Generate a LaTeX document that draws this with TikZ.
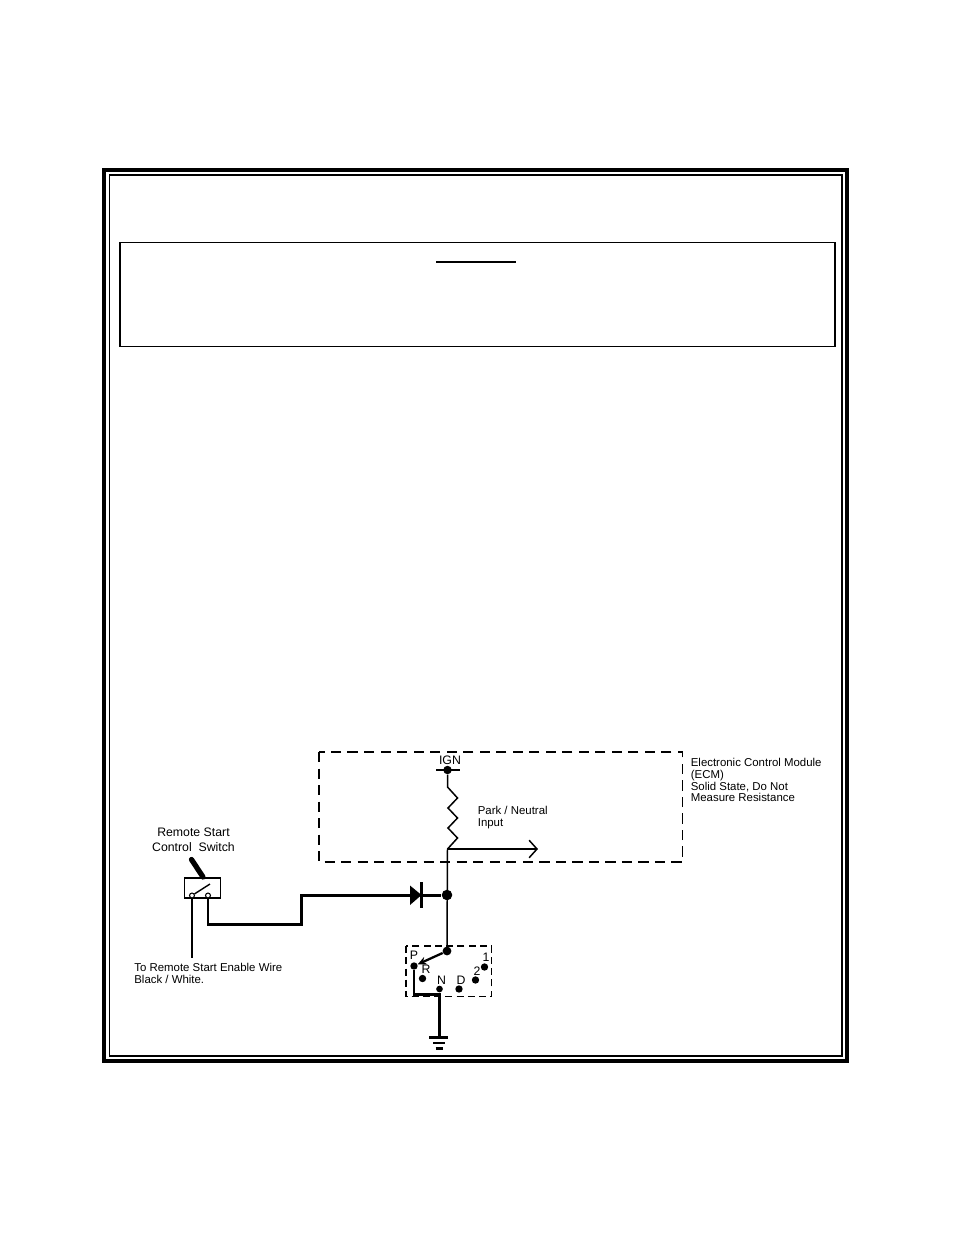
\documentclass[tikz,border=0pt]{standalone}
\usepackage{fontspec}
\setmainfont{Liberation Sans}
\usetikzlibrary{arrows.meta}

\tikzset{
	dot/.style={circle, fill=black, inner sep=0pt, minimum size=#1},
	dot/.default=4.8pt,
	term/.style={circle, draw, fill=white, line width=0.6pt, inner sep=0pt, minimum size=2.8pt},
	thinwire/.style={line width=0.85pt},
	medwire/.style={line width=1.3pt},
	heavywire/.style={line width=1.7pt},
	lbl/.style={font=\fontsize{6.5}{6.8}\selectfont, inner sep=0pt, align=left},
	biglbl/.style={font=\fontsize{7}{8.4}\selectfont, inner sep=0pt, align=center},
	ecmdash/.style={line width=0.85pt, dash pattern=on 5.8pt off 3.6pt},
	geardash/.style={line width=0.95pt, dash pattern=on 4pt off 2.4pt},
}

\begin{document}
\begin{tikzpicture}[x=0.02cm, y=-0.02cm]

	\useasboundingbox (0,0) rectangle (954,1235);

	\draw[line width=2.3pt] (104,170) rectangle (847,1061);
	\draw[line width=0.8pt] (109.5,175) rectangle (842,1056);
	\draw[line width=1.05pt] (120,242.5) rectangle (835,346.5);
	\draw[line width=0.8pt] (436,262) -- (516,262);

	\draw[ecmdash] (319,752) rectangle (682.5,862);
	\draw[geardash] (406,946) rectangle (491.5,996.5);

	\node[dot] (ign) at (447.5,770) {};
	\node[dot=6pt] (junction) at (447,895) {};
	\node[dot=5pt] (common) at (447,951) {};
	\coordinate (input) at (447.5,849);
	\coordinate (inputend) at (538,849);
	\coordinate (barleft) at (436,770);
	\coordinate (barright) at (460,770);

	\draw[thinwire] (barleft) -- (barright);
	\draw[thinwire] (ign) -- (447.5,787) -- (457.5,798) -- (448,808) -- (457.5,818)
		-- (448,828) -- (457.5,838) -- (input);
	\draw[thinwire] (input) -- (common);
	\draw[thinwire, -{Straight Barb[length=4.5pt, width=10pt]}] (input) -- (inputend);

	\node[biglbl] (ignlabel) at (450,760) {IGN};
	\node[lbl, anchor=west] (parklabel) at (477.5,817.5) {Park / Neutral\\Input};
	\node[lbl, anchor=north west] (ecmlabel) at (690.5,757.5) {Electronic Control Module\\(ECM)\\Solid State, Do Not\\Measure Resistance};

	\draw[line width=0.8pt] (184.5,878) rectangle (220.5,898);
	\node[term] (switcha) at (192,895.5) {};
	\node[term] (switchb) at (208,895.5) {};
	\coordinate (bladeend) at (210,884);
	\coordinate (togglebase) at (203,877);
	\coordinate (toggletop) at (191.5,859.5);
	\coordinate (enableend) at (192,958);

	\draw[line width=0.8pt] (switcha) -- (bladeend);
	\draw[line width=3pt, line cap=round] (toggletop) -- (togglebase);
	\draw[medwire] (switcha) -- (enableend);

	\node[biglbl] (switchlabel) at (193.5,840) {Remote Start\\Control\ \ Switch};
	\node[lbl, anchor=north west] (enablelabel) at (134,962.5) {To Remote Start Enable Wire\\Black / White.};

	\coordinate (diodeleft) at (410,895);
	\coordinate (diodebar) at (421.5,895);
	\draw[heavywire] (switchb) -- (208,924) -- (301.5,924) -- (301.5,895) -- (diodeleft);
	\draw[heavywire] (diodebar) -- (junction);
	\fill (410,885.5) -- (421.5,895) -- (410,905) -- cycle;
	\draw[line width=1.4pt] (421.5,882) -- (421.5,908);

	\node[dot=4.2pt] (gearp) at (414,966) {};
	\node[dot=4.2pt] (gearr) at (422.5,978.5) {};
	\node[dot=3.8pt] (gearn) at (439.5,989) {};
	\node[dot=4.2pt] (geard) at (459,989) {};
	\node[dot=4.2pt] (geartwo) at (475.5,980) {};
	\node[dot=4.2pt] (gearone) at (484.5,967) {};

	\draw[medwire, -{Stealth[length=5pt, width=4.5pt]}] (common) -- (gearp);
	\draw[heavywire] (gearp) -- (414,994) -- (439.5,994);
	\draw[heavywire] (gearn) -- (439.5,1037);

	\node[biglbl] (plabel) at (414,955) {P};
	\node[biglbl] (rlabel) at (426,969) {R};
	\node[biglbl] (nlabel) at (441.5,980) {N};
	\node[biglbl] (dlabel) at (461,980.5) {D};
	\node[biglbl] (twolabel) at (477,971) {2};
	\node[biglbl] (onelabel) at (486,957) {1};

	\draw[heavywire] (429,1037) -- (448,1037);
	\draw[medwire] (433,1043) -- (445,1043);
	\draw[medwire] (435.5,1048.5) -- (443,1048.5);

\end{tikzpicture}
\end{document}
